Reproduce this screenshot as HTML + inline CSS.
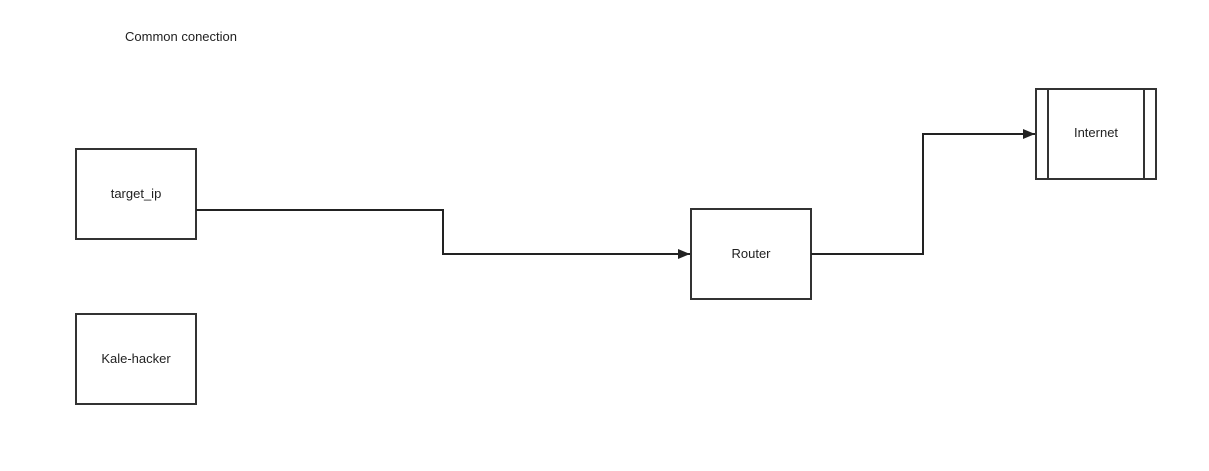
<!DOCTYPE html>
<html><head><meta charset="utf-8"><style>
html,body{margin:0;padding:0;background:#fff;width:1209px;height:471px;overflow:hidden}
svg text{font-family:"Liberation Sans",sans-serif;font-size:13px;fill:#222}
</style></head><body>
<svg width="1209" height="471" viewBox="0 0 1209 471" xmlns="http://www.w3.org/2000/svg">
<defs><marker id="a" markerWidth="12" markerHeight="10" refX="12" refY="5" orient="auto" markerUnits="userSpaceOnUse"><path d="M0,0 L12,5 L0,10 Z" fill="#222"/></marker></defs>
<text x="181" y="41" text-anchor="middle">Common conection</text>
<g fill="#fff" stroke="#333" stroke-width="2">
<rect x="76" y="149" width="120" height="90"/>
<rect x="76" y="314" width="120" height="90"/>
<rect x="691" y="209" width="120" height="90"/>
<rect x="1036" y="89" width="120" height="90"/>
<line x1="1048" y1="89" x2="1048" y2="179"/>
<line x1="1144" y1="89" x2="1144" y2="179"/>
</g>
<g fill="none" stroke="#222" stroke-width="2">
<polyline points="196,210 443,210 443,254 690,254" marker-end="url(#a)"/>
<polyline points="811,254 923,254 923,134 1035,134" marker-end="url(#a)"/>
</g>
<text x="136" y="198" text-anchor="middle">target_ip</text>
<text x="136" y="363" text-anchor="middle">Kale-hacker</text>
<text x="751" y="258" text-anchor="middle">Router</text>
<text x="1096" y="137" text-anchor="middle">Internet</text>
</svg>
</body></html>
